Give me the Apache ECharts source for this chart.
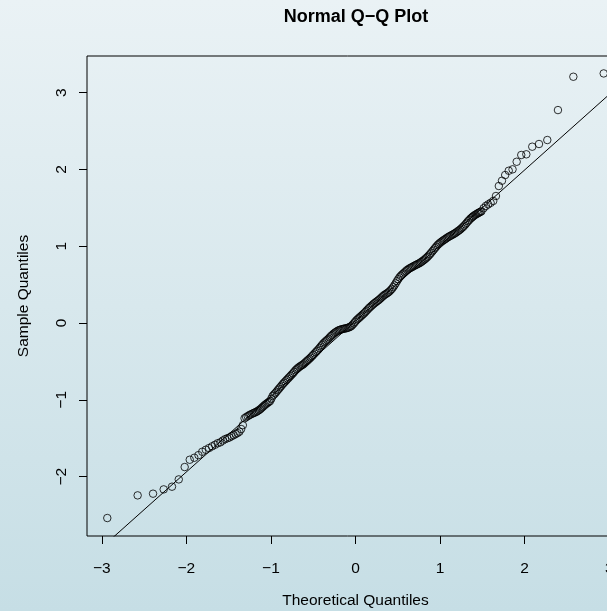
<!DOCTYPE html>
<html>
<head>
<meta charset="utf-8">
<script src="https://cdn.jsdelivr.net/npm/echarts@6/dist/echarts.min.js"></script>
<style>
    html, body { margin: 0; padding: 0; }
    #qq { width: 607px; height: 611px; }
</style>
</head>
<body>
<div id="qq"></div>
<script>
// [theoretical quantile, sample quantile]
var lowerTail = [
    [-2.935, -2.539], [-2.576, -2.244], [-2.394, -2.222], [-2.268, -2.166], [-2.170, -2.131],
    [-2.090, -2.036], [-2.020, -1.875], [-1.960, -1.780], [-1.906, -1.754], [-1.857, -1.720],
    [-1.812, -1.676], [-1.770, -1.650], [-1.732, -1.628], [-1.695, -1.605], [-1.661, -1.585],
    [-1.629, -1.565], [-1.598, -1.553], [-1.569, -1.530], [-1.542, -1.512], [-1.515, -1.500],
    [-1.489, -1.490], [-1.464, -1.472], [-1.440, -1.460], [-1.417, -1.445], [-1.395, -1.432],
    [-1.373, -1.415], [-1.352, -1.380], [-1.332, -1.330], [-1.312, -1.240], [-1.293, -1.225],
    [-1.274, -1.212], [-1.255, -1.200]
];
var middleBand = [
    [-1.240, -1.190], [-1.220, -1.180], [-1.205, -1.172], [-1.190, -1.165], [-1.175, -1.157],
    [-1.160, -1.148], [-1.145, -1.137], [-1.130, -1.125], [-1.115, -1.110], [-1.100, -1.095],
    [-1.085, -1.080], [-1.070, -1.065], [-1.055, -1.052], [-1.040, -1.040], [-1.025, -1.028],
    [-1.010, -1.015], [-0.995, -0.985], [-0.980, -0.950], [-0.965, -0.932], [-0.950, -0.915],
    [-0.935, -0.895], [-0.920, -0.875], [-0.905, -0.855], [-0.890, -0.835], [-0.875, -0.815],
    [-0.860, -0.795], [-0.845, -0.777], [-0.830, -0.760], [-0.815, -0.742], [-0.800, -0.725],
    [-0.785, -0.707], [-0.770, -0.690], [-0.755, -0.672], [-0.740, -0.655], [-0.725, -0.635],
    [-0.710, -0.615], [-0.695, -0.600], [-0.680, -0.585], [-0.665, -0.572], [-0.650, -0.560],
    [-0.635, -0.550], [-0.620, -0.540], [-0.605, -0.525], [-0.590, -0.510], [-0.575, -0.495],
    [-0.560, -0.480], [-0.545, -0.465], [-0.530, -0.450], [-0.515, -0.432], [-0.500, -0.415],
    [-0.485, -0.397], [-0.470, -0.380], [-0.455, -0.362], [-0.440, -0.345], [-0.425, -0.325],
    [-0.410, -0.305], [-0.395, -0.285], [-0.380, -0.265], [-0.365, -0.250], [-0.350, -0.235],
    [-0.335, -0.220], [-0.320, -0.205], [-0.305, -0.187], [-0.290, -0.170], [-0.275, -0.155],
    [-0.260, -0.140], [-0.245, -0.127], [-0.230, -0.115], [-0.215, -0.105], [-0.200, -0.095],
    [-0.185, -0.089], [-0.170, -0.083], [-0.155, -0.079], [-0.140, -0.075], [-0.125, -0.071],
    [-0.110, -0.068], [-0.095, -0.063], [-0.080, -0.058], [-0.065, -0.050], [-0.050, -0.040],
    [-0.035, -0.023], [-0.020, -0.005], [-0.005, 0.015], [0.010, 0.035], [0.025, 0.050],
    [0.040, 0.065], [0.055, 0.080], [0.070, 0.095], [0.085, 0.110], [0.100, 0.125],
    [0.115, 0.142], [0.130, 0.160], [0.145, 0.177], [0.160, 0.195], [0.175, 0.210],
    [0.190, 0.225], [0.205, 0.240], [0.220, 0.255], [0.235, 0.267], [0.250, 0.280],
    [0.265, 0.292], [0.280, 0.305], [0.295, 0.320], [0.310, 0.335], [0.325, 0.350],
    [0.340, 0.365], [0.355, 0.375], [0.370, 0.385], [0.385, 0.397], [0.400, 0.410],
    [0.415, 0.427], [0.430, 0.445], [0.445, 0.467], [0.460, 0.490], [0.475, 0.517],
    [0.490, 0.545], [0.505, 0.570], [0.520, 0.595], [0.535, 0.613], [0.550, 0.630],
    [0.565, 0.645], [0.580, 0.660], [0.595, 0.675], [0.610, 0.690], [0.625, 0.701],
    [0.640, 0.712], [0.655, 0.721], [0.670, 0.730], [0.685, 0.739], [0.700, 0.748],
    [0.715, 0.757], [0.730, 0.765], [0.745, 0.773], [0.760, 0.782], [0.775, 0.793],
    [0.790, 0.805], [0.805, 0.817], [0.820, 0.830], [0.835, 0.845], [0.850, 0.860],
    [0.865, 0.877], [0.880, 0.895], [0.895, 0.915], [0.910, 0.935], [0.925, 0.955],
    [0.940, 0.975], [0.955, 0.995], [0.970, 1.015], [0.985, 1.030], [1.000, 1.045],
    [1.015, 1.058], [1.030, 1.070], [1.045, 1.081], [1.060, 1.092], [1.075, 1.104],
    [1.090, 1.115], [1.105, 1.125], [1.120, 1.135], [1.135, 1.143], [1.150, 1.152],
    [1.165, 1.162], [1.180, 1.172], [1.195, 1.183], [1.210, 1.195], [1.225, 1.207],
    [1.240, 1.220], [1.255, 1.235], [1.270, 1.250], [1.285, 1.267], [1.300, 1.285],
    [1.315, 1.305], [1.330, 1.325], [1.345, 1.342], [1.360, 1.360], [1.373, 1.372],
    [1.385, 1.384], [1.395, 1.393], [1.410, 1.405], [1.425, 1.415], [1.440, 1.425],
    [1.452, 1.433], [1.464, 1.440], [1.477, 1.448], [1.489, 1.455]
];
var upperTail = [
    [1.515, 1.495], [1.542, 1.525], [1.569, 1.545], [1.598, 1.565], [1.629, 1.590],
    [1.661, 1.654], [1.695, 1.784], [1.732, 1.853], [1.770, 1.927], [1.812, 1.983],
    [1.857, 2.001], [1.906, 2.100], [1.960, 2.188], [2.020, 2.197], [2.090, 2.296],
    [2.170, 2.331], [2.268, 2.383], [2.394, 2.773], [2.576, 3.207], [2.935, 3.250]
];
// reference line through the quartiles (end points)
var qqLine = [[-3.175, -3.094], [3.175, 3.148]];

var xTicks = [-3, -2, -1, 0, 1, 2, 3];
var yTicks = [-2, -1, 0, 1, 2, 3];

var points = lowerTail.concat(middleBand, upperTail);

var fontFam = '"Liberation Sans", Arial, Helvetica, sans-serif';
var minus = function (v) { return String(v).replace('-', '\u2212'); };

var chart = echarts.init(document.getElementById('qq'));
chart.setOption({
    animation: false,
    backgroundColor: {
        type: 'linear', x: 0, y: 0, x2: 0, y2: 1,
        colorStops: [{offset: 0, color: '#eaf2f5'}, {offset: 1, color: '#c6dee5'}]
    },
    title: {
        text: 'Normal Q\u2212Q Plot',
        left: 356,
        top: 8,
        padding: 0,
        textAlign: 'center',
        textStyle: {fontFamily: fontFam, fontSize: 18, fontWeight: 'bold', color: '#000'}
    },
    grid: {
        left: 87,
        top: 56,
        width: 537,
        height: 480,
        outerBoundsMode: 'none',
        containLabel: false,
        show: true,
        borderColor: '#000',
        borderWidth: 1,
        backgroundColor: 'transparent'
    },
    xAxis: {
        type: 'value',
        min: -3.175,
        max: 3.175,
        name: 'Theoretical Quantiles',
        nameLocation: 'middle',
        nameGap: 57,
        nameTextStyle: {fontFamily: fontFam, fontSize: 15.5, color: '#000'},
        axisLine: {show: false, onZero: false},
        splitLine: {show: false},
        axisTick: {show: true, length: 8, customValues: xTicks, lineStyle: {color: '#000'}},
        axisLabel: {
            customValues: xTicks, margin: 25, formatter: minus,
            fontFamily: fontFam, fontSize: 15.5, color: '#000'
        }
    },
    yAxis: {
        type: 'value',
        min: -2.773,
        max: 3.477,
        name: 'Sample Quantiles',
        nameLocation: 'middle',
        nameGap: 55,
        nameTextStyle: {fontFamily: fontFam, fontSize: 15.5, color: '#000'},
        axisLine: {show: false, onZero: false},
        splitLine: {show: false},
        axisTick: {show: true, length: 8, customValues: yTicks, lineStyle: {color: '#000'}},
        axisLabel: {
            customValues: yTicks, rotate: 90, margin: 17, formatter: minus,
            fontFamily: fontFam, fontSize: 15.5, color: '#000'
        }
    },
    series: [
        {
            type: 'scatter',
            data: points,
            symbol: 'circle',
            symbolSize: 7.5,
            itemStyle: {color: 'rgba(0,0,0,0)', borderColor: '#000', borderWidth: 1}
        },
        {
            type: 'line',
            data: qqLine,
            symbol: 'none',
            lineStyle: {color: '#000', width: 1}
        }
    ]
});
</script>
</body>
</html>
